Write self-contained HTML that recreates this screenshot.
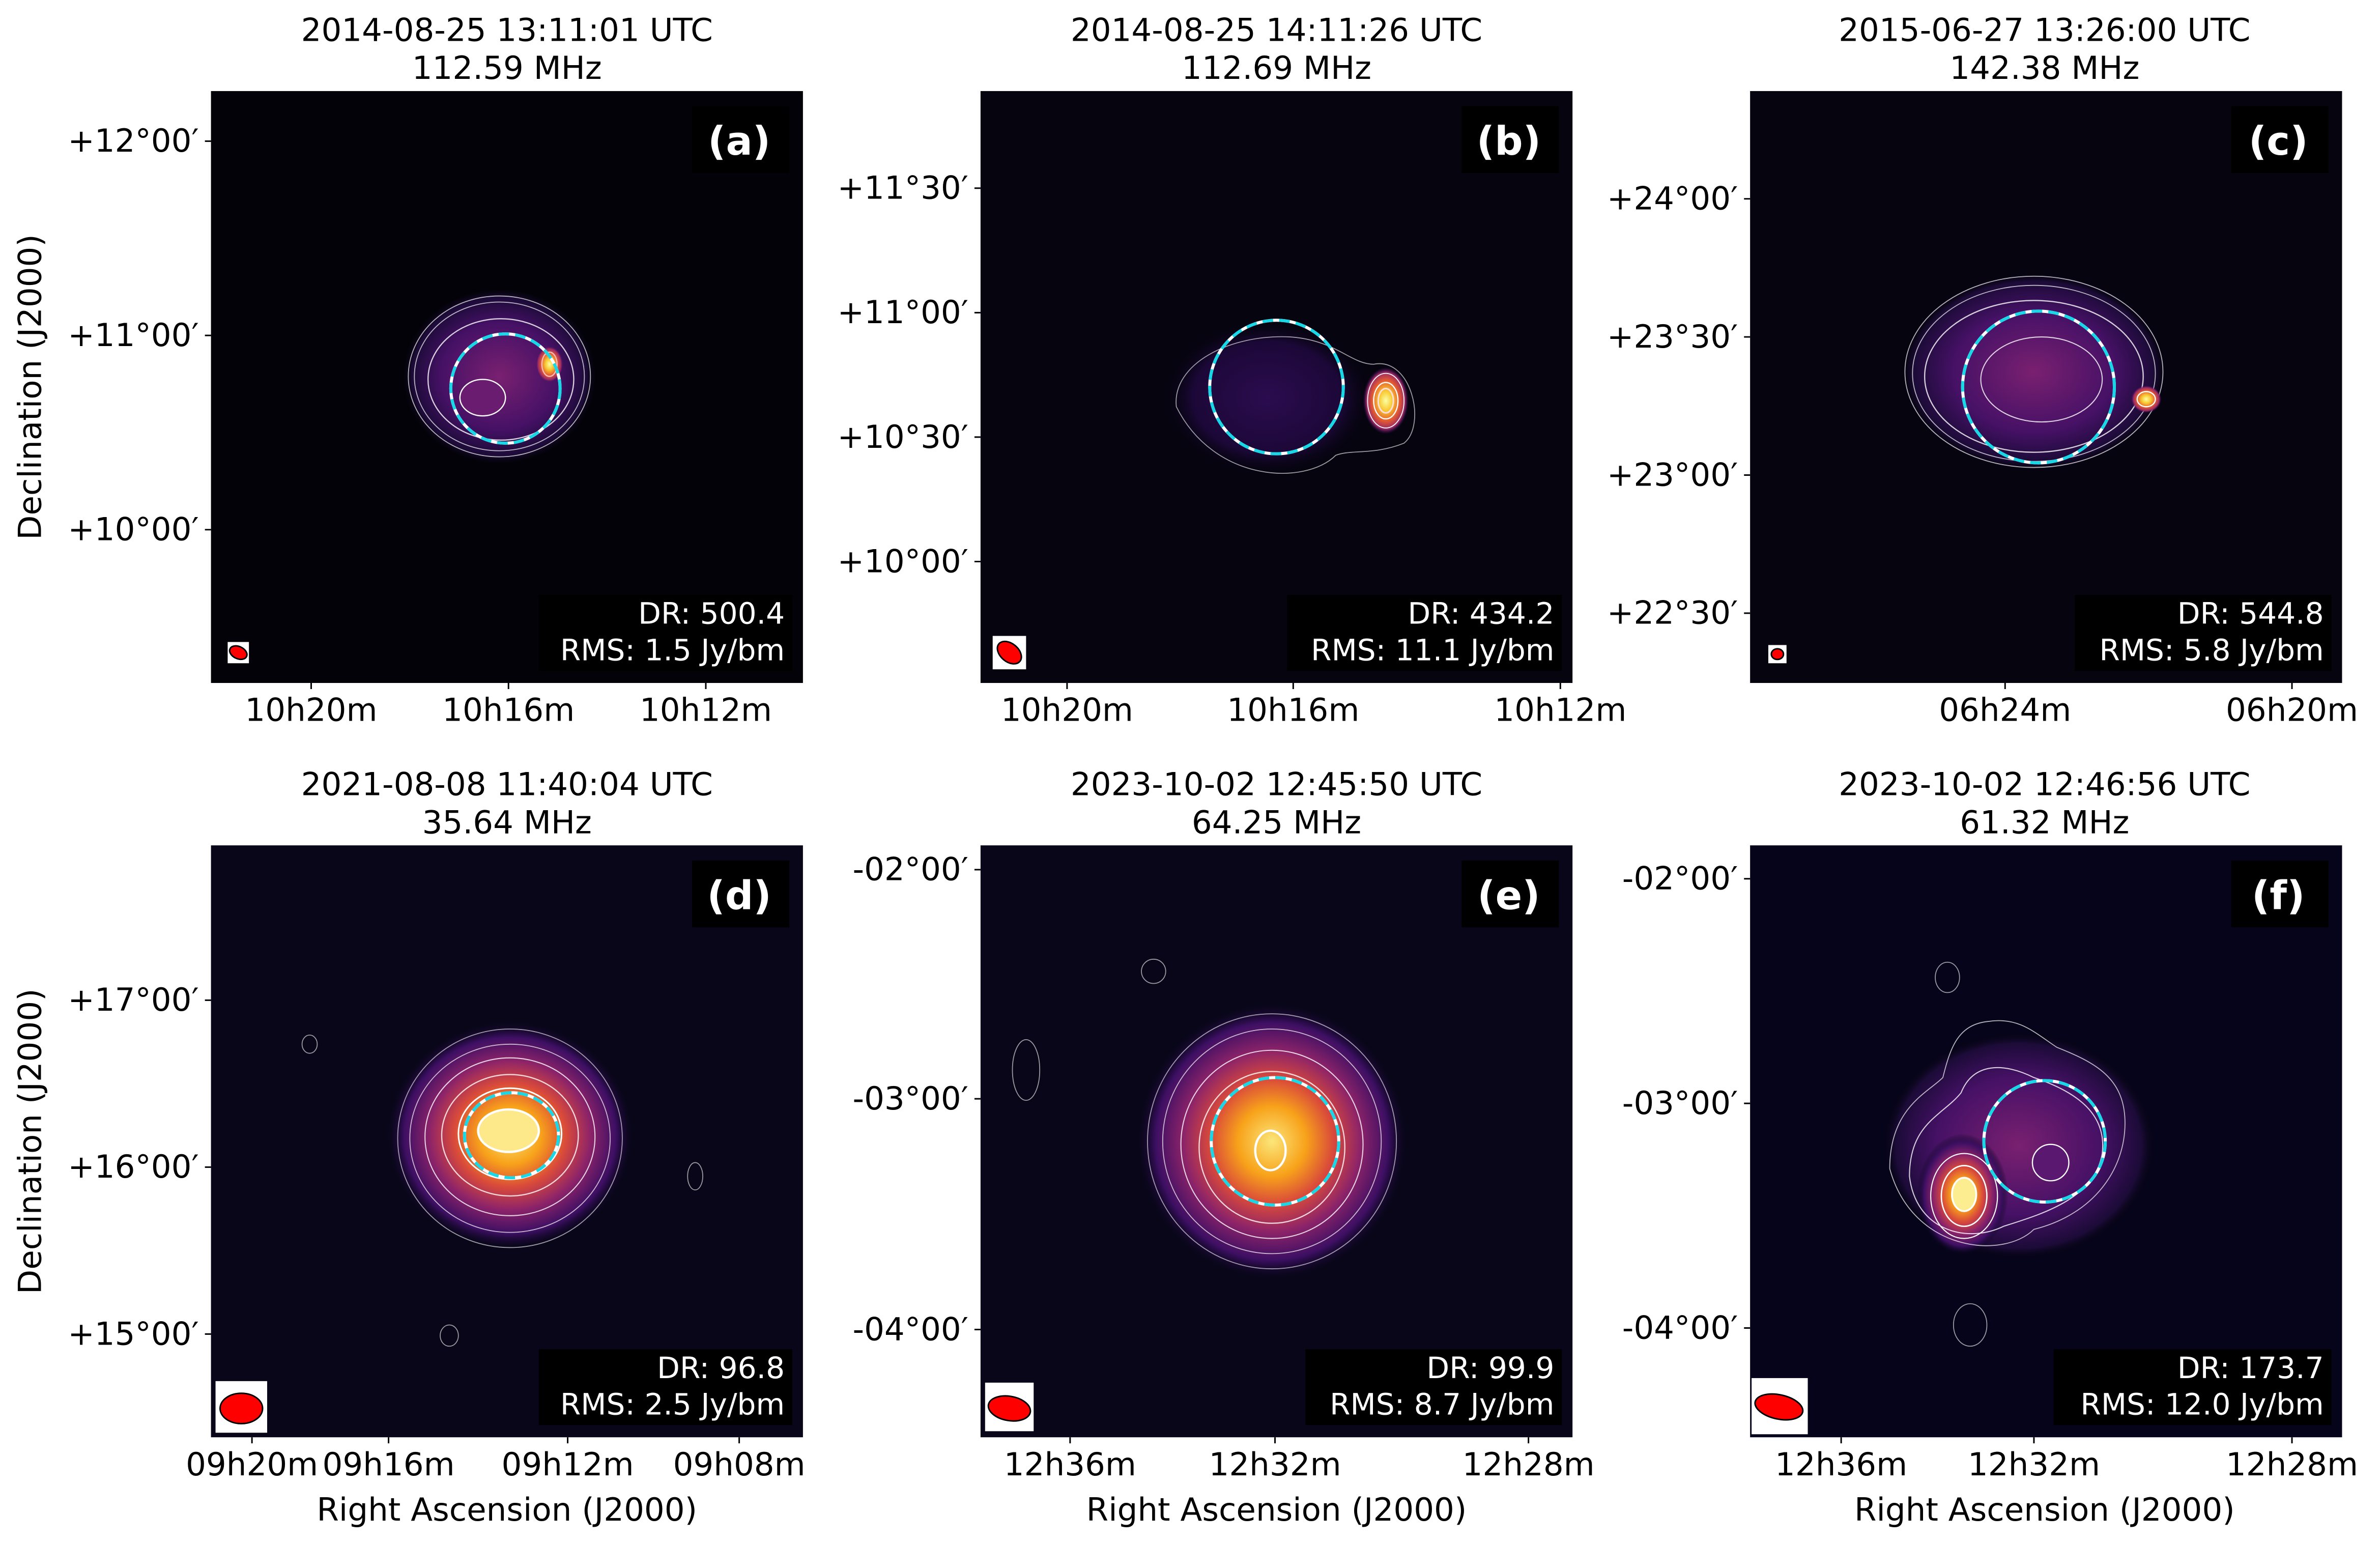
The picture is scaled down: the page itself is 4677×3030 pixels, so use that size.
<!DOCTYPE html>
<html><head><meta charset="utf-8"><style>html,body{margin:0;padding:0;background:#fff}svg{display:block}</style></head>
<body>
<svg xmlns="http://www.w3.org/2000/svg" width="4677" height="3030" viewBox="0 0 1568 1016" preserveAspectRatio="none" font-family="DejaVu Sans, Liberation Sans, sans-serif">
<defs>
<radialGradient id="g1"><stop offset="0" stop-color="#7a2070"/><stop offset="0.6" stop-color="#461166"/><stop offset="0.9" stop-color="#1c0b38"/><stop offset="1" stop-color="#06040f" stop-opacity="0"/></radialGradient>
<radialGradient id="hot"><stop offset="0" stop-color="#fcffa4"/><stop offset="0.3" stop-color="#f8c932"/><stop offset="0.6" stop-color="#e55c30"/><stop offset="0.85" stop-color="#9a2865"/><stop offset="1" stop-color="#3a0f60" stop-opacity="0"/></radialGradient>
<radialGradient id="big"><stop offset="0" stop-color="#fbe67a"/><stop offset="0.25" stop-color="#f8a21a"/><stop offset="0.45" stop-color="#d94a3a"/><stop offset="0.65" stop-color="#8c2369"/><stop offset="0.85" stop-color="#3d0f63"/><stop offset="1" stop-color="#07051a" stop-opacity="0"/></radialGradient>
<radialGradient id="faint"><stop offset="0" stop-color="#2b0c4f"/><stop offset="0.7" stop-color="#1c0838"/><stop offset="1" stop-color="#05030f" stop-opacity="0"/></radialGradient>
</defs>
<rect width="1568" height="1016" fill="#fff"/>

<rect x="139" y="60" width="390" height="390" fill="#030208"/>
<rect x="646" y="60" width="390" height="390" fill="#06040f"/>
<rect x="1153" y="60" width="390" height="390" fill="#06040f"/>
<rect x="139" y="557" width="390" height="390" fill="#080618"/>
<rect x="646" y="557" width="390" height="390" fill="#080618"/>
<rect x="1153" y="557" width="390" height="390" fill="#06041a"/>

<g fill="none" stroke="#fff">
<ellipse cx="329" cy="248" rx="64" ry="58" fill="url(#g1)" stroke="none"/>
<ellipse cx="329" cy="248" rx="60" ry="53" stroke-width="0.6" opacity="0.7"/>
<ellipse cx="329" cy="248" rx="56" ry="49" stroke-width="0.6" opacity="0.7"/>
<ellipse cx="330" cy="250" rx="48" ry="40" stroke-width="0.8" opacity="0.8"/>
<ellipse cx="318" cy="262" rx="15" ry="12" fill="#6a1c70" stroke-width="0.8"/>
<ellipse cx="362" cy="240" rx="9" ry="12" fill="url(#hot)" stroke="none"/>
<ellipse cx="362" cy="240" rx="5" ry="8" stroke="#fbb" stroke-width="0.8"/>
<circle cx="333" cy="256" r="36" stroke="#fff" stroke-width="2"/>
<circle cx="333" cy="256" r="36" stroke="#18d8e8" stroke-width="2" stroke-dasharray="7 4"/>
<ellipse cx="835" cy="262" rx="70" ry="52" fill="url(#faint)" stroke="none"/>
<path d="M775 268 C772 240 810 220 850 222 C880 224 890 240 905 240 C930 235 940 280 925 292 C905 300 890 296 880 300 C860 320 800 318 775 268Z" stroke-width="0.6" opacity="0.6"/>
<ellipse cx="913" cy="264" rx="15" ry="22" fill="url(#hot)" stroke="none"/>
<ellipse cx="913" cy="264" rx="12" ry="18" stroke-width="0.6"/>
<ellipse cx="913" cy="264" rx="8" ry="12" stroke-width="0.8"/>
<ellipse cx="913" cy="264" rx="5" ry="8" stroke="#fdd" stroke-width="1"/>
<circle cx="841" cy="255" r="44" stroke="#fff" stroke-width="2"/>
<circle cx="841" cy="255" r="44" stroke="#18d8e8" stroke-width="2" stroke-dasharray="7 4"/>
<ellipse cx="1340" cy="245" rx="88" ry="66" fill="url(#g1)" stroke="none"/>
<ellipse cx="1340" cy="245" rx="85" ry="63" stroke-width="0.6" opacity="0.7"/>
<ellipse cx="1340" cy="246" rx="80" ry="58" stroke-width="0.6" opacity="0.7"/>
<ellipse cx="1340" cy="248" rx="72" ry="50" stroke-width="0.8" opacity="0.8"/>
<ellipse cx="1345" cy="250" rx="40" ry="28" stroke-width="0.7" opacity="0.8"/>
<ellipse cx="1414" cy="263" rx="10" ry="9" fill="url(#hot)" stroke="none"/>
<ellipse cx="1414" cy="263" rx="6" ry="5" stroke-width="0.8"/>
<circle cx="1343" cy="255" r="50" stroke="#fff" stroke-width="2"/>
<circle cx="1343" cy="255" r="50" stroke="#18d8e8" stroke-width="2" stroke-dasharray="7 4"/>
<ellipse cx="336" cy="748" rx="82" ry="76" fill="url(#big)" stroke="none"/>
<ellipse cx="336" cy="750" rx="74" ry="72" stroke-width="0.6" opacity="0.6"/>
<ellipse cx="336" cy="750" rx="66" ry="62" stroke-width="0.6" opacity="0.7"/>
<ellipse cx="336" cy="749" rx="56" ry="52" stroke-width="0.7" opacity="0.8"/>
<ellipse cx="336" cy="748" rx="45" ry="40" stroke-width="0.8" opacity="0.8"/>
<ellipse cx="336" cy="747" rx="34" ry="30" stroke-width="1"/>
<ellipse cx="335" cy="745" rx="20" ry="14" fill="#fde88a" stroke-width="1.5"/>
<ellipse cx="337" cy="748" rx="31" ry="28" stroke="#fff" stroke-width="2"/>
<ellipse cx="337" cy="748" rx="31" ry="28" stroke="#18d8e8" stroke-width="2" stroke-dasharray="7 4"/>
<ellipse cx="204" cy="688" rx="5" ry="6" stroke-width="0.6" opacity="0.6"/>
<ellipse cx="458" cy="775" rx="5" ry="9" stroke-width="0.6" opacity="0.6"/>
<ellipse cx="296" cy="880" rx="6" ry="7" stroke-width="0.6" opacity="0.6"/>
<ellipse cx="838" cy="752" rx="90" ry="92" fill="url(#big)" stroke="none"/>
<ellipse cx="838" cy="752" rx="82" ry="84" stroke-width="0.6" opacity="0.6"/>
<ellipse cx="838" cy="752" rx="72" ry="74" stroke-width="0.6" opacity="0.7"/>
<ellipse cx="838" cy="754" rx="60" ry="62" stroke-width="0.7" opacity="0.8"/>
<ellipse cx="838" cy="756" rx="48" ry="50" stroke-width="0.8" opacity="0.8"/>
<ellipse cx="837" cy="758" rx="10" ry="13" stroke-width="1.5"/>
<circle cx="840" cy="752" r="42" stroke="#fff" stroke-width="2"/>
<circle cx="840" cy="752" r="42" stroke="#18d8e8" stroke-width="2" stroke-dasharray="7 4"/>
<ellipse cx="760" cy="640" rx="8" ry="8" stroke-width="0.6" opacity="0.6"/>
<ellipse cx="676" cy="705" rx="9" ry="20" stroke-width="0.6" opacity="0.6"/>
<ellipse cx="1330" cy="755" rx="90" ry="75" fill="url(#g1)" stroke="none"/>
<ellipse cx="1293" cy="787" rx="30" ry="40" fill="url(#big)" stroke="none"/>
<path d="M1245 770 C1245 730 1270 720 1280 710 C1285 690 1290 675 1310 673 C1330 670 1340 680 1355 690 C1380 700 1400 710 1400 740 C1400 770 1380 800 1340 810 C1320 830 1260 825 1245 770Z" stroke-width="0.6" opacity="0.7"/>
<path d="M1258 775 C1258 740 1280 735 1292 720 C1300 700 1320 700 1340 710 C1370 720 1388 735 1385 760 C1380 790 1345 800 1320 808 C1295 820 1262 810 1258 775Z" stroke-width="0.7" opacity="0.8"/>
<ellipse cx="1294" cy="788" rx="22" ry="28" stroke-width="0.7"/>
<ellipse cx="1294" cy="788" rx="15" ry="20" stroke-width="0.9"/>
<ellipse cx="1294" cy="787" rx="8" ry="11" fill="#fcee90" stroke-width="1.2"/>
<ellipse cx="1351" cy="766" rx="12" ry="12" fill="#5a1870" stroke-width="0.8"/>
<circle cx="1347" cy="752" r="40" stroke="#fff" stroke-width="2"/>
<circle cx="1347" cy="752" r="40" stroke="#18d8e8" stroke-width="2" stroke-dasharray="7 4"/>
<ellipse cx="1283" cy="644" rx="8" ry="10" stroke-width="0.6" opacity="0.6"/>
<ellipse cx="1298" cy="873" rx="11" ry="14" stroke-width="0.6" opacity="0.6"/>
</g>

<g font-weight="bold" font-size="26" fill="#fff" text-anchor="middle">
<rect x="456" y="70" width="64" height="44" fill="#000"/><text x="487" y="102">(a)</text>
<rect x="963" y="70" width="64" height="44" fill="#000"/><text x="994" y="102">(b)</text>
<rect x="1470" y="70" width="64" height="44" fill="#000"/><text x="1501" y="102">(c)</text>
<rect x="456" y="567" width="64" height="44" fill="#000"/><text x="487" y="599">(d)</text>
<rect x="963" y="567" width="64" height="44" fill="#000"/><text x="994" y="599">(e)</text>
<rect x="1470" y="567" width="64" height="44" fill="#000"/><text x="1501" y="599">(f)</text>
</g>

<g font-size="19.5" fill="#fff" text-anchor="end">
<rect x="355" y="392" width="167" height="50" fill="#000"/><text x="517" y="411">DR: 500.4</text><text x="517" y="435">RMS: 1.5 Jy/bm</text>
<rect x="848" y="392" width="181" height="50" fill="#000"/><text x="1024" y="411">DR: 434.2</text><text x="1024" y="435">RMS: 11.1 Jy/bm</text>
<rect x="1367" y="392" width="169" height="50" fill="#000"/><text x="1531" y="411">DR: 544.8</text><text x="1531" y="435">RMS: 5.8 Jy/bm</text>
<rect x="355" y="889" width="167" height="50" fill="#000"/><text x="517" y="908">DR: 96.8</text><text x="517" y="932">RMS: 2.5 Jy/bm</text>
<rect x="860" y="889" width="169" height="50" fill="#000"/><text x="1024" y="908">DR: 99.9</text><text x="1024" y="932">RMS: 8.7 Jy/bm</text>
<rect x="1353" y="889" width="183" height="50" fill="#000"/><text x="1531" y="908">DR: 173.7</text><text x="1531" y="932">RMS: 12.0 Jy/bm</text>
</g>

<g stroke="#000" stroke-width="1">
<rect x="150" y="423" width="14" height="14" fill="#fff" stroke="none"/><ellipse cx="157" cy="430" rx="6" ry="4" fill="#f00" transform="rotate(25 157 430)"/>
<rect x="654" y="419" width="22" height="22" fill="#fff" stroke="none"/><ellipse cx="665" cy="430" rx="9" ry="6" fill="#f00" transform="rotate(40 665 430)"/>
<rect x="1165" y="425" width="12" height="12" fill="#fff" stroke="none"/><ellipse cx="1171" cy="431" rx="4" ry="3.5" fill="#f00"/>
<rect x="142" y="910" width="34" height="34" fill="#fff" stroke="none"/><ellipse cx="159" cy="928" rx="14" ry="10" fill="#f00"/>
<rect x="649" y="911" width="32" height="32" fill="#fff" stroke="none"/><ellipse cx="665" cy="928" rx="14" ry="8" fill="#f00" transform="rotate(10 665 928)"/>
<rect x="1154" y="908" width="37" height="37" fill="#fff" stroke="none"/><ellipse cx="1172" cy="927" rx="16" ry="8" fill="#f00" transform="rotate(12 1172 927)"/>
</g>

<g font-size="21" fill="#000" text-anchor="middle">
<text x="334" y="27">2014-08-25 13:11:01 UTC</text><text x="334" y="52">112.59 MHz</text>
<text x="841" y="27">2014-08-25 14:11:26 UTC</text><text x="841" y="52">112.69 MHz</text>
<text x="1347" y="27">2015-06-27 13:26:00 UTC</text><text x="1347" y="52">142.38 MHz</text>
<text x="334" y="524">2021-08-08 11:40:04 UTC</text><text x="334" y="549">35.64 MHz</text>
<text x="841" y="524">2023-10-02 12:45:50 UTC</text><text x="841" y="549">64.25 MHz</text>
<text x="1347" y="524">2023-10-02 12:46:56 UTC</text><text x="1347" y="549">61.32 MHz</text>
</g>

<g stroke="#000" stroke-width="1">
<path d="M135 93H139M135 221H139M135 349H139M205 450V454M335 450V454M465 450V454"/>
<path d="M642 124H646M642 206H646M642 288H646M642 370H646M703 450V454M852 450V454M1028 450V454"/>
<path d="M1149 131H1153M1149 222H1153M1149 313H1153M1149 404H1153M1321 450V454M1510 450V454"/>
<path d="M135 659H139M135 769H139M135 879H139M166 947V951M256 947V951M374 947V951M487 947V951"/>
<path d="M642 573H646M642 724H646M642 876H646M705 947V951M840 947V951M1007 947V951"/>
<path d="M1149 579H1153M1149 727H1153M1149 875H1153M1213 947V951M1340 947V951M1510 947V951"/>
</g>
<g font-size="21" fill="#000" text-anchor="end">
<text x="131" y="100">+12°00′</text><text x="131" y="228">+11°00′</text><text x="131" y="356">+10°00′</text>
<text x="638" y="131">+11°30′</text><text x="638" y="213">+11°00′</text><text x="638" y="295">+10°30′</text><text x="638" y="377">+10°00′</text>
<text x="1145" y="138">+24°00′</text><text x="1145" y="229">+23°30′</text><text x="1145" y="320">+23°00′</text><text x="1145" y="411">+22°30′</text>
<text x="131" y="666">+17°00′</text><text x="131" y="776">+16°00′</text><text x="131" y="886">+15°00′</text>
<text x="638" y="580">-02°00′</text><text x="638" y="731">-03°00′</text><text x="638" y="883">-04°00′</text>
<text x="1145" y="586">-02°00′</text><text x="1145" y="734">-03°00′</text><text x="1145" y="882">-04°00′</text>
</g>
<g font-size="21" fill="#000" text-anchor="middle">
<text x="205" y="475">10h20m</text><text x="335" y="475">10h16m</text><text x="465" y="475">10h12m</text>
<text x="703" y="475">10h20m</text><text x="852" y="475">10h16m</text><text x="1028" y="475">10h12m</text>
<text x="1321" y="475">06h24m</text><text x="1510" y="475">06h20m</text>
<text x="166" y="972">09h20m</text><text x="256" y="972">09h16m</text><text x="374" y="972">09h12m</text><text x="487" y="972">09h08m</text>
<text x="705" y="972">12h36m</text><text x="840" y="972">12h32m</text><text x="1007" y="972">12h28m</text>
<text x="1213" y="972">12h36m</text><text x="1340" y="972">12h32m</text><text x="1510" y="972">12h28m</text>
<text x="334" y="1002">Right Ascension (J2000)</text>
<text x="841" y="1002">Right Ascension (J2000)</text>
<text x="1347" y="1002">Right Ascension (J2000)</text>
<text transform="translate(27 255) rotate(-90)">Declination (J2000)</text>
<text transform="translate(27 752) rotate(-90)">Declination (J2000)</text>
</g>
</svg>
</body></html>
